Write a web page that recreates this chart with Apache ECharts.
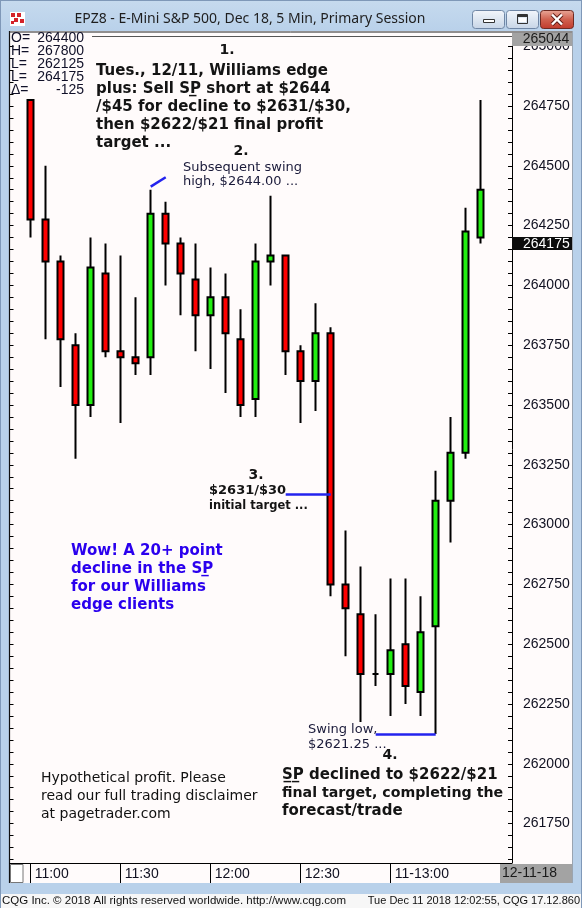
<!DOCTYPE html>
<html><head><meta charset="utf-8">
<script src="https://cdn.jsdelivr.net/npm/echarts@6/dist/echarts.min.js"></script>
<style>html,body{margin:0;padding:0;background:#b9d1ea;}#c{width:582px;height:908px;}</style>
</head><body><div id="c"></div>
<script>
// ---------- data ----------
const times = ['11:00','11:05','11:10','11:15','11:20','11:25','11:30','11:35','11:40','11:45','11:50','11:55',
  '12:00','12:05','12:10','12:15','12:20','12:25','12:30','12:35','12:40','12:45','12:50','12:55',
  '13:00','13:05','13:10','13:15','13:20','13:25','13:30'];
const opens  = [264775,264275,264100,263750,263500,264050,263725,263700,263700,264300,264175,264025,263875,263950,263775,263525,264100,264125,263725,263600,263800,262750,262625,262375,262375,262500,262300,262575,263100,263300,264200];
const closes = [264275,264100,263775,263500,264075,263725,263700,263675,264300,264175,264050,263875,263950,263800,263500,264100,264125,263725,263600,263800,262750,262650,262375,262375,262475,262325,262550,263100,263300,264225,264400];
const lows   = [264200,263775,263575,263275,263450,263700,263425,263625,263625,264000,263875,263725,263650,263550,263450,263450,264000,263625,263425,263475,262700,262450,262175,262325,262200,262250,262200,262125,262925,263275,264175];
const highs  = [264775,264500,264125,263800,264200,264175,264125,263950,264400,264350,264200,264175,264075,264050,263900,264175,264375,264125,263750,263925,263825,262975,262825,262625,262775,262775,262700,263225,263450,264325,264775];
const tickTimes  = ['11:00','11:30','12:00','12:30','13:00'];
const tickLabels = ['11:00','11:30','12:00','12:30','11-13:00'];
const priceMin = 261500, priceMax = 265100, priceStep = 50, labelStep = 250;
const labelLow = 261750, labelHigh = 265000;
const lastPrice = 264175;
const scaleTopText = '265044';
const dateText = '12-11-18';
const ohlcLabels = ['O=','H=','L=','L=','\u0394='];
const ohlcValues = ['264400','267800','262125','264175','-125'];
const swingHighMark = [[8,264413],[9,264452]];
const target1Mark  = [[17,263125],[20,263125]];
const swingLowMark = [[23,262125],[27,262125]];

// ---------- chart ----------
const chart = echarts.init(document.getElementById('c'), null, {renderer:'canvas'});
const ohlc = times.map((t,i)=>[opens[i],closes[i],lows[i],highs[i]]);
const blue = '#2323ee';
const ml = (pair)=>[{coord:pair[0]},{coord:pair[1]}];
const AX = '"Liberation Sans", Arial, sans-serif';
const DV = '"DejaVu Sans", Verdana, sans-serif';
const pxPerPt = 0.2392;
const gridBottomY = 883.4;
const gridH = (priceMax-priceMin)*pxPerPt;

chart.setOption({
  animation:false,
  backgroundColor:'#b9d1ea',
  grid:{left:23.2, width:465, top:gridBottomY-gridH, height:gridH},
  xAxis:{type:'category', data:times, boundaryGap:true,
    position:'bottom', offset:-20.4,
    axisLine:{show:false},
    axisTick:{show:true, alignWithLabel:true, length:20, inside:false,
      interval:(i,v)=>tickTimes.indexOf(v)>=0, lineStyle:{color:'#000',width:1}},
    axisLabel:{show:true, interval:(i,v)=>tickTimes.indexOf(v)>=0,
      formatter:(v)=>{const k=tickTimes.indexOf(v);return k>=0?tickLabels[k]:'';},
      align:'left', padding:[0,0,0,4], margin:4, fontFamily:AX, fontSize:14, color:'#101020'},
    splitLine:{show:false}},
  yAxis:[
    {type:'value', position:'right', offset:23.8, min:priceMin, max:priceMax, interval:priceStep,
      axisLine:{show:false},
      axisTick:{show:true, inside:true, length:4, lineStyle:{color:'#000'}},
      axisLabel:{show:true, margin:11, fontFamily:AX, fontSize:14, color:'#101020',
        formatter:(v)=>(v%labelStep===0 && v>=labelLow && v<=labelHigh)?String(v):''},
      splitLine:{show:false}},
    {type:'value', position:'left', offset:13.7, min:priceMin, max:priceMax, interval:priceStep,
      axisLine:{show:false},
      axisTick:{show:true, inside:true, length:4, lineStyle:{color:'#000'}},
      axisLabel:{show:false}, splitLine:{show:false}}
  ],
  series:[{
    type:'candlestick', data:ohlc, barWidth:6, yAxisIndex:0,
    itemStyle:{color:'#22ee11', color0:'#ff0000', borderColor:'#000', borderColor0:'#000', borderColorDoji:'#000', borderWidth:2},
    markLine:{silent:true, symbol:['none','none'], label:{show:false},
      lineStyle:{color:blue, width:2.5, type:'solid'},
      emphasis:{disabled:true},
      data:[ml(swingHighMark), ml(target1Mark), ml(swingLowMark)]}
  }]
});

const lastY = chart.convertToPixel({seriesIndex:0}, [times.length-1, lastPrice])[1];

function T(text,x,y,font,color,align,z){
  return {type:'text', x:x, y:y, z:z||50, silent:true,
    style:{text:text, font:font, fill:color, align:align||'left', verticalAlign:'middle'}};
}
function R(x,y,w,h,fill,stroke,z,lw,r){
  return {type:'rect', z:z, silent:true, shape:{x:x,y:y,width:w,height:h,r:r||0},
    style:{fill:fill, stroke:stroke||null, lineWidth:lw||1}};
}
function L(x1,y1,x2,y2,color,w,z){
  return {type:'line', z:z, silent:true, shape:{x1:x1,y1:y1,x2:x2,y2:y2}, style:{stroke:color, lineWidth:w}};
}
const g = [];
// panel background
g.push(R(9,31,564,852,'#fffbfb',null,-10));
// title bar
g.push({type:'rect', z:60, silent:true, shape:{x:0,y:0,width:582,height:31},
  style:{fill:new echarts.graphic.LinearGradient(0,0,0,1,[{offset:0,color:'#c6daee'},{offset:1,color:'#b9d1ea'}])}});
g.push(R(9,31,564,5,'#fffbfb',null,59));
g.push(R(0,31,9,852,'#b9d1ea',null,60));
g.push(R(573,31,9,852,'#b9d1ea',null,60));
g.push(L(0.5,0,0.5,908,'#7f98b8',1,61));
g.push(L(581.5,0,581.5,908,'#7f98b8',1,61));
g.push(L(0,0.5,582,0.5,'#7f98b8',1,61));
// icon
g.push(R(10,12,15,14,'#ffffff',null,62));
g.push(R(11,13,4,4,'#d4232a',null,63)); g.push(R(17,13,4,4,'#d4232a',null,63));
g.push(R(14,18,4,4,'#d4232a',null,63)); g.push(R(20,19,4,4,'#d4232a',null,63));
g.push(R(11,21,3,3,'#d4232a',null,63));
g.push(T('EPZ8 - E-Mini S&P 500, Dec 18, 5 Min, Primary Session',250,19,'14px "Noto Sans", "Open Sans", sans-serif','#1e1e1e','center',62));
// buttons
const btnGrad = ()=>new echarts.graphic.LinearGradient(0,0,0,1,[{offset:0,color:'#f3f6fb'},{offset:0.5,color:'#dde6f1'},{offset:1,color:'#c6d4e6'}]);
g.push({type:'rect', z:62, silent:true, shape:{x:472.5,y:10.5,width:32,height:18,r:3}, style:{fill:btnGrad(), stroke:'#6f86a5', lineWidth:1}});
g.push(R(483.5,19.5,11,3,'#ffffff','#333',63,1));
g.push({type:'rect', z:62, silent:true, shape:{x:506.5,y:10.5,width:32,height:18,r:3}, style:{fill:btnGrad(), stroke:'#6f86a5', lineWidth:1}});
g.push(R(517.5,14.5,10,9,'none','#333',63,1));
g.push(R(518,15,9,2,'#333',null,63));
g.push(R(519,18,7,4,'#ffffff',null,63));
g.push({type:'rect', z:62, silent:true, shape:{x:540.5,y:10.5,width:33,height:18,r:3},
  style:{fill:new echarts.graphic.LinearGradient(0,0,0,1,[{offset:0,color:'#e9a99a'},{offset:0.5,color:'#d0614f'},{offset:1,color:'#c0392b'}]), stroke:'#6e2a22', lineWidth:1}});
g.push(L(552,14.5,562,24.5,'#5a1a14',4,63)); g.push(L(562,14.5,552,24.5,'#5a1a14',4,63));
g.push(L(552,14.5,562,24.5,'#ffffff',2.4,64)); g.push(L(562,14.5,552,24.5,'#ffffff',2.4,64));
// frame lines
g.push(L(9.5,31,9.5,883,'#111',1.2,60));
g.push(L(9,32,572,32,'#222',1,60));
g.push(L(92,36.5,512,36.5,'#555',1,60));
g.push(L(512.5,36,512.5,863,'#000',1,60));
g.push(L(9.5,863.5,512.5,863.5,'#000',1,60));
g.push(L(572.5,31,572.5,883,'#9aa4b0',1,60));
// scale top box
g.push(R(512,33,60,13,'#a3a3a3',null,61));
g.push(T(scaleTopText,546,39,'14px '+AX,'#1a1a1a','center',62));
// last price box
g.push(R(512,lastY-6.5,60,13,'#0c0c0c',null,61));
g.push(T(String(lastPrice),523,lastY+0.5,'14px '+AX,'#ffffff','left',62));
// bottom strip boxes
g.push(R(10.5,864.5,12.5,18,'#ffffff','#777',61,1));
g.push(R(500,864,72,19,'#a3a3a3',null,61));
g.push(T(dateText,502,873,'14px '+AX,'#1a1a1a','left',62));
// lower window frame and status bar
g.push(R(0,883,582,11,'#b9d1ea',null,60));
g.push(R(1,894,580,14,'#f7f7f7',null,60));
g.push(T('CQG Inc. \u00a9 2018 All rights reserved worldwide. http://www.cqg.com',2,901,'11.5px '+AX,'#111','left',62));
g.push(T('Tue Dec 11 2018 12:02:55, CQG 17.12.860',580,901,'11px '+AX,'#111','right',62));
// OHLC legend
ohlcLabels.forEach((s,i)=>{
  g.push(T(s,11,38+i*13,'14px '+AX,'#101028','left',65));
  g.push(T(ohlcValues[i],84,38+i*13,'14px '+AX,'#101028','right',65));
});
// annotations
const B15 = 'bold 15px '+DV, B14='bold 14px '+DV, R13='13px '+DV, R14='14px '+DV;
const ink = '#141414';
g.push(T('1.',227,50,B14,ink,'center'));
['Tues., 12/11, Williams edge','plus: Sell SP\u0332 short at $2644','/$45 for decline to $2631/$30,','then $2622/$21 final profit','target ...']
  .forEach((s,i)=>g.push(T(s,96,71+i*18,B15,ink)));
g.push(T('2.',241,151,B14,ink,'center'));
g.push(T('Subsequent swing',183,168,R13,'#1a1a3a'));
g.push(T('high, $2644.00 ...',183,182,R13,'#1a1a3a'));
g.push(T('3.',256,475,B14,ink,'center'));
g.push(T('$2631/$30',209,491,'bold 13px '+DV,ink));
g.push(T('initial target ...',209,506,'bold 11.5px '+DV,ink));
['Wow! A 20+ point','decline in the SP\u0332','for our Williams','edge clients']
  .forEach((s,i)=>g.push(T(s,71,551+i*18,B15,'#2a00ee')));
['Hypothetical profit. Please','read our full trading disclaimer','at pagetrader.com']
  .forEach((s,i)=>g.push(T(s,41,778+i*18,R14,'#111')));
g.push(T('Swing low,',308,730,R13,'#1a1a3a'));
g.push(T('$2621.25 ...',308,745,R13,'#1a1a3a'));
g.push(T('4.',390,755,B14,ink,'center'));
g.push(T('S\u0332P\u0332 declined to $2622/$21',282,775,B15,ink));
g.push(T('final target, completing the',282,793,'bold 14.2px '+DV,ink));
g.push(T('forecast/trade',282,811,B15,ink));

chart.setOption({graphic:{elements:g}});
</script></body></html>
